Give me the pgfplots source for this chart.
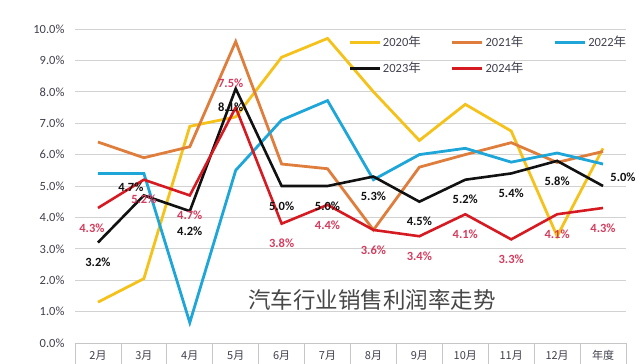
\documentclass[border=0pt]{standalone}
\usepackage{pgfplots}
\pgfplotsset{compat=1.18}
\usepackage{pgfplotstable}
\usepackage{fontspec}
\setmainfont{Carlito}
\newfontfamily\cjk{Noto Sans CJK SC}
\definecolor{c20}{HTML}{F5C21B}
\definecolor{c21}{HTML}{DF7E3C}
\definecolor{c22}{HTML}{1EA6D9}
\definecolor{c23}{HTML}{111111}
\definecolor{c24}{HTML}{D61A22}
\definecolor{lred}{HTML}{D43D5E}
\definecolor{tk}{HTML}{40404E}

\pgfplotstableread{
x y
0 1.3
1 2.05
2 6.9
3 7.2
4 9.1
5 9.7
6 8.0
7 6.45
8 7.6
9 6.75
10 3.4
11 6.2
}\dA
\pgfplotstableread{
x y
0 6.4
1 5.9
2 6.25
3 9.6
4 5.7
5 5.55
6 3.6
7 5.6
8 6.0
9 6.38
10 5.75
11 6.1
}\dB
\pgfplotstableread{
x y
0 5.4
1 5.4
2 0.65
3 5.5
4 7.1
5 7.72
6 5.2
7 6.0
8 6.2
9 5.76
10 6.05
11 5.7
}\dC
\pgfplotstableread{
x y dx dy
0 3.2 0 -20
1 4.7 -13 8
2 4.2 0 -20
3 8.1 -5 -19
4 5.0 0 -20
5 5.0 0 -20
6 5.3 0 -20
7 4.5 0 -20
8 5.2 0 -20
9 5.4 0 -20
10 5.8 0 -20
11 5.0 20 9
}\dD
\pgfplotstableread{
x y dx dy
0 4.3 -6 -20
1 5.2 0 -20
2 4.7 0 -20
3 7.5 -5 24
4 3.8 0 -20
5 4.4 0 -20
6 3.6 0 -20
7 3.4 0 -20
8 4.1 0 -20
9 3.3 0 -20
10 4.1 0 -20
11 4.3 0 -20
}\dE

\pgfplotsset{
  lbl/.style={
    draw=none, mark=none, forget plot,
    nodes near coords={\pgfmathprintnumber[fixed,fixed zerofill,precision=1]{\pgfplotspointmeta}\%},
    point meta=explicit,
    visualization depends on={\thisrow{dx}\as\dx},
    visualization depends on={\thisrow{dy}\as\dy},
    every node near coord/.append style={anchor=center, xshift=\dx pt, yshift=\dy pt,
      font=\fontsize{12.5}{14}\selectfont\bfseries, text=#1, inner sep=1pt},
  },
}

\begin{document}
\begin{tikzpicture}
\useasboundingbox (-75pt,-21pt) rectangle (565pt,343pt);
\begin{axis}[
  at={(0,0)}, anchor=south west,
  scale only axis, width=551pt, height=314pt,
  xmin=-0.5, xmax=11.5, ymin=0, ymax=10,
  clip=false,
  axis x line*=bottom, axis y line*=left,
  y axis line style={draw=none},
  x axis line style={draw=gray!45, line width=0.8pt, -},
  ymajorgrids, grid style={draw=gray!35, line width=0.8pt},
  ytick={0,1,...,10},
  /pgf/number format/assume math mode=true,
  yticklabel={\pgfmathprintnumber[fixed,fixed zerofill,precision=1]{\tick}\%},
  yticklabel style={font=\fontsize{12.5}{14}\selectfont, text=tk, xshift=-7pt},
  xtick={0,...,11},
  xticklabels={2月,3月,4月,5月,6月,7月,8月,9月,10月,11月,12月,年度},
  xticklabel style={font=\cjk\fontsize{11}{13}\selectfont, text=tk, yshift=-4pt},
  minor xtick={-0.5,0.5,...,11.5},
  major tick length=0pt, minor tick length=30pt, tick align=outside,
  xtick pos=bottom,
  minor tick style={draw=gray!45, line width=0.8pt},
  legend columns=3,
  legend image code/.code={\draw[#1] (0pt,0pt) -- (30pt,0pt);},
  legend style={at={(rel axis cs:0.49,0.99)}, anchor=north west, draw=none, fill=none,
    font=\fontsize{12.5}{14}\selectfont, text=tk, row sep=10pt,
    /tikz/every even column/.append style={column sep=28pt}},
  legend cell align=left,
]
\addplot[c20, line width=2.8pt] table[x=x,y=y] {\dA};
\addlegendentry{2020{\cjk 年}}
\addplot[c21, line width=2.8pt] table[x=x,y=y] {\dB};
\addlegendentry{2021{\cjk 年}}
\addplot[c22, line width=2.8pt] table[x=x,y=y] {\dC};
\addlegendentry{2022{\cjk 年}}
\addplot[c23, line width=2.6pt] table[x=x,y=y] {\dD};
\addlegendentry{2023{\cjk 年}}
\addplot[c24, line width=2.6pt] table[x=x,y=y] {\dE};
\addlegendentry{2024{\cjk 年}}
\addplot[lbl=c23] table[x=x,y=y,meta=y] {\dD};
\addplot[lbl=lred] table[x=x,y=y,meta=y] {\dE};
\node[font=\cjk\fontsize{22.5}{26}\selectfont, text=black!72] at (rel axis cs:0.539,0.137) {汽车行业销售利润率走势};
\end{axis}
\end{tikzpicture}
\end{document}
